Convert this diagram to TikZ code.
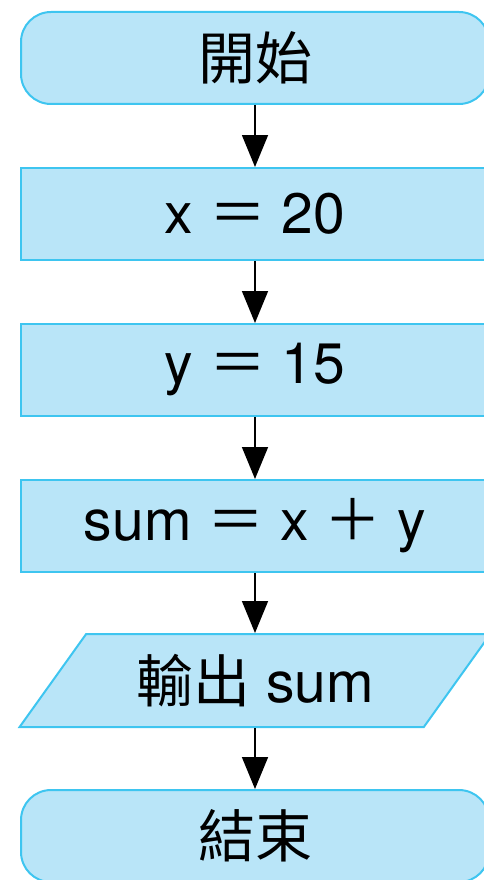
\documentclass[tikz,border=0pt]{standalone}
\usepackage{fontspec}
\setmainfont{TeX Gyre Heros}
\newfontfamily\cjk{Noto Sans CJK TC}
\usetikzlibrary{arrows.meta,positioning,shapes.geometric}
\definecolor{boxfill}{RGB}{185,229,248}
\definecolor{boxline}{RGB}{62,197,240}

\begin{document}
\begin{tikzpicture}[
    x=1pt, y=1pt,
    node distance=62pt,
    every node/.style={font=\fontsize{57}{64}\selectfont},
    terminal/.style={draw=boxline, fill=boxfill, line width=2pt, rounded corners=30pt, minimum width=468pt, minimum height=92pt},
    process/.style={draw=boxline, fill=boxfill, line width=2pt, minimum width=468pt, minimum height=92pt},
    io/.style={draw=boxline, fill=boxfill, line width=2pt, trapezium, trapezium left angle=51, trapezium right angle=129, trapezium stretches=true, minimum width=472pt, minimum height=93pt},
    flow/.style={-{Triangle[length=32pt,width=26pt]}, line width=1.6pt}
]
\useasboundingbox (0,0) rectangle (483,-880);
\node[terminal] (start) at (255,-58) {\cjk 開始};
\node[process, below=of start] (setx) {x {\cjk ＝} 20};
\node[process, below=of setx] (sety) {y {\cjk ＝} 15};
\node[process, below=of sety] (addsum) {sum {\cjk ＝} x {\cjk ＋} y};
\node[io, below=60pt of addsum] (output) {{\cjk 輸出} sum};
\node[terminal, below=61pt of output] (stop) {\cjk 結束};
\draw[flow] (start) -- (setx);
\draw[flow] (setx) -- (sety);
\draw[flow] (sety) -- (addsum);
\draw[flow] (addsum) -- (output);
\draw[flow] (output) -- (stop);
\end{tikzpicture}
\end{document}
